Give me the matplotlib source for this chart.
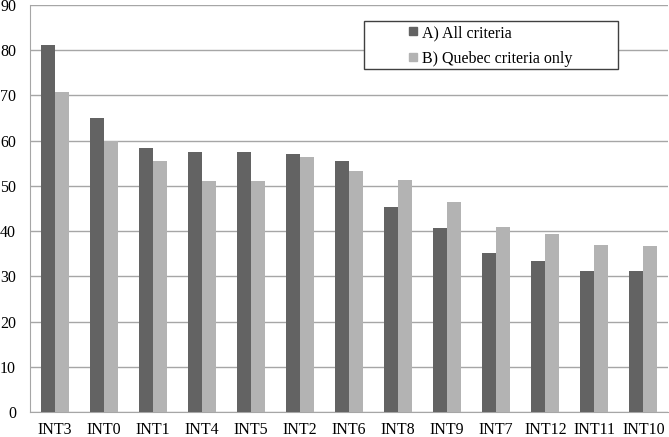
import matplotlib.pyplot as plt
from matplotlib.patches import Rectangle
from matplotlib.lines import Line2D
import numpy as np

plt.rcParams['font.family'] = ['Liberation Serif', 'DejaVu Serif']

# Data
categories = ["INT3", "INT0", "INT1", "INT4", "INT5", "INT2", "INT6",
              "INT8", "INT9", "INT7", "INT12", "INT11", "INT10"]
all_criteria = [81.1, 65.1, 58.4, 57.5, 57.5, 57.0, 55.5, 45.4, 40.7, 35.1, 33.5, 31.2, 31.1]
quebec_only = [70.8, 60.0, 55.5, 51.1, 51.1, 56.3, 53.4, 51.2, 46.4, 40.8, 39.3, 36.9, 36.8]
series_names = ['A) All criteria', 'B) Quebec criteria only']
colors = ['#636363', '#b3b3b3']

fig = plt.figure(figsize=(6.69, 4.37), dpi=100)
ax = fig.add_axes([30 / 669, 25 / 437, 638 / 669, 407 / 437])

x = np.arange(len(categories))
w = 0.285
ax.bar(x - w / 2, all_criteria, w, color=colors[0], zorder=3)
ax.bar(x + w / 2, quebec_only, w, color=colors[1], zorder=3)

ax.set_xlim(-0.5, len(categories) - 0.5)
ax.set_ylim(0, 90)
ax.set_yticks(range(0, 91, 10))
ax.set_xticks(x)
ax.set_xticklabels(categories)
ax.tick_params(axis='both', length=0, labelsize=11.5, colors='black')
ax.tick_params(axis='y', pad=10)
ax.tick_params(axis='x', pad=7)
ax.grid(axis='y', color='#a6a6a6', linewidth=1, zorder=0)

for s in ['top', 'right']:
    ax.spines[s].set_visible(False)
ax.spines['left'].set_color('#a6a6a6')
ax.spines['bottom'].set_color('#a6a6a6')

# legend box (wider than its entries, as in the original)
box = Rectangle((364 / 669, 1 - 69 / 437), 254 / 669, 48 / 437, transform=fig.transFigure,
                facecolor='white', edgecolor='#404040', linewidth=1, zorder=5, clip_on=False)
ax.add_patch(box)

handles = [Line2D([], [], marker='s', linestyle='none', markersize=5.3, color=c) for c in colors]
leg = ax.legend(handles, series_names, loc='upper left', bbox_to_anchor=(409 / 669, 1 - 25 / 437),
                bbox_transform=fig.transFigure, fontsize=11.5, frameon=False,
                handlelength=0.5, handletextpad=0.3,
                borderpad=0, labelspacing=0.6, borderaxespad=0)
leg.set_zorder(6)

fig.savefig('out.png', dpi=100)
